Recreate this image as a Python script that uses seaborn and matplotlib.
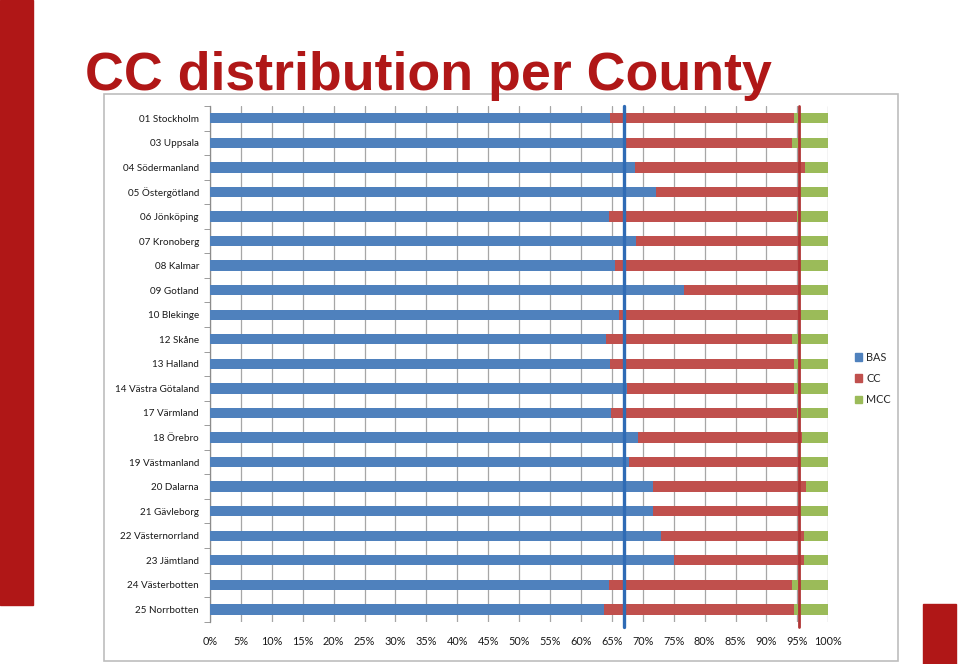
import matplotlib
matplotlib.use("Agg")
import matplotlib.pyplot as plt
from matplotlib.patches import Patch, Rectangle
from matplotlib.ticker import FixedLocator, FuncFormatter
import numpy as np
import pandas as pd
import seaborn as sns

counties = [
    "01 Stockholm", "03 Uppsala", "04 Södermanland", "05 Östergötland",
    "06 Jönköping", "07 Kronoberg", "08 Kalmar", "09 Gotland", "10 Blekinge",
    "12 Skåne", "13 Halland", "14 Västra Götaland", "17 Värmland", "18 Örebro",
    "19 Västmanland", "20 Dalarna", "21 Gävleborg", "22 Västernorrland",
    "23 Jämtland", "24 Västerbotten", "25 Norrbotten",
]
bas = [64.7, 67.2, 68.8, 72.2, 64.6, 68.9, 65.5, 76.7, 66.1, 64.1, 64.7,
       67.5, 64.8, 69.2, 67.7, 71.7, 71.7, 73.0, 75.1, 64.5, 63.7]
cc = [29.8, 27.0, 27.4, 23.1, 30.3, 26.4, 29.9, 18.6, 29.2, 30.1, 29.7,
      27.0, 30.1, 26.5, 27.6, 24.7, 23.7, 23.0, 20.9, 29.7, 30.8]
mcc = [5.5, 5.8, 3.8, 4.7, 5.1, 4.7, 4.6, 4.7, 4.7, 5.8, 5.6,
       5.5, 5.1, 4.3, 4.7, 3.6, 4.6, 4.0, 4.0, 5.8, 5.5]
bas_line = 67.0
cc_line = 95.2

df = pd.DataFrame({"county": counties, "BAS": bas, "CC": cc, "MCC": mcc})
df["cc_end"] = df["BAS"] + df["CC"]
df["total"] = df["cc_end"] + df["MCC"]

c_bas, c_cc, c_mcc = "#4F81BD", "#C0504D", "#9BBB59"
brand_red = "#B01717"

sns.set_style("white")
plt.rcParams["font.family"] = ["Lato", "DejaVu Sans"]

fig = plt.figure(figsize=(9.6, 6.64), dpi=100)
ax = fig.add_axes([210 / 960, 1 - 621.7 / 664, 618.3 / 960, 515.7 / 664])

# stacked bars drawn as overlapping cumulative totals
bw = 0.42
for col, colr in [("total", c_mcc), ("cc_end", c_cc), ("BAS", c_bas)]:
    sns.barplot(data=df, x=col, y="county", color=colr, width=bw,
                saturation=1, orient="h", ax=ax, zorder=3, linewidth=0)

ax.axvline(bas_line, ymin=-0.01, color="#2F6BB5", lw=2.4, zorder=5, clip_on=False)
ax.axvline(cc_line, ymin=-0.01, color="#B03535", lw=2.0, zorder=5, clip_on=False)

ax.set_xlim(0, 100)
ax.set_ylim(len(counties) - 0.5, -0.5)
ax.xaxis.set_major_locator(FixedLocator(np.arange(0, 101, 5)))
ax.xaxis.set_major_formatter(FuncFormatter(lambda v, p: f"{int(round(v))}%"))
ax.grid(axis="x", color="#A6A6A6", lw=0.9, zorder=0)
ax.grid(axis="y", visible=False)
ax.set_xlabel("")
ax.set_ylabel("")

for s in ["top", "right", "bottom"]:
    ax.spines[s].set_visible(False)
ax.spines["left"].set_color("#8C8C8C")
ax.spines["left"].set_linewidth(0.9)

ax.yaxis.set_minor_locator(FixedLocator(np.arange(-0.5, len(counties), 1.0)))
ax.tick_params(axis="y", which="major", length=0, pad=8, labelsize=7.1, labelcolor="#1a1a1a")
ax.tick_params(axis="y", which="minor", length=4, color="#8C8C8C", left=True)
ax.tick_params(axis="x", length=0, pad=10, labelsize=7.8, labelcolor="#1a1a1a")

handles = [Patch(color=c_bas, label="BAS"), Patch(color=c_cc, label="CC"),
           Patch(color=c_mcc, label="MCC")]
fig.legend(handles=handles, loc="upper left", bbox_to_anchor=(845 / 960, 1 - 342 / 664),
           frameon=False, fontsize=7.8, handlelength=0.7, handleheight=0.7,
           handletextpad=0.35, labelspacing=0.95)

# slide decoration
fig.patches.append(Rectangle((104 / 960, 1 - 660.7 / 664), 794 / 960, 566.7 / 664,
                             transform=fig.transFigure, fill=False,
                             edgecolor="#BDBDBD", lw=1.2, zorder=0))
fig.patches.append(Rectangle((0, 1 - 605 / 664), 33 / 960, 605 / 664,
                             transform=fig.transFigure, color=brand_red, zorder=0))
fig.patches.append(Rectangle((922.7 / 960, 0), 33.3 / 960, 59.7 / 664,
                             transform=fig.transFigure, color=brand_red, zorder=0))

fig.text(85 / 960, 1 - 90 / 664, "CC distribution per County", fontsize=38.7,
         fontweight="bold", color=brand_red, family=["Liberation Sans", "DejaVu Sans"],
         va="baseline", ha="left")

fig.savefig("out.png", dpi=100)
